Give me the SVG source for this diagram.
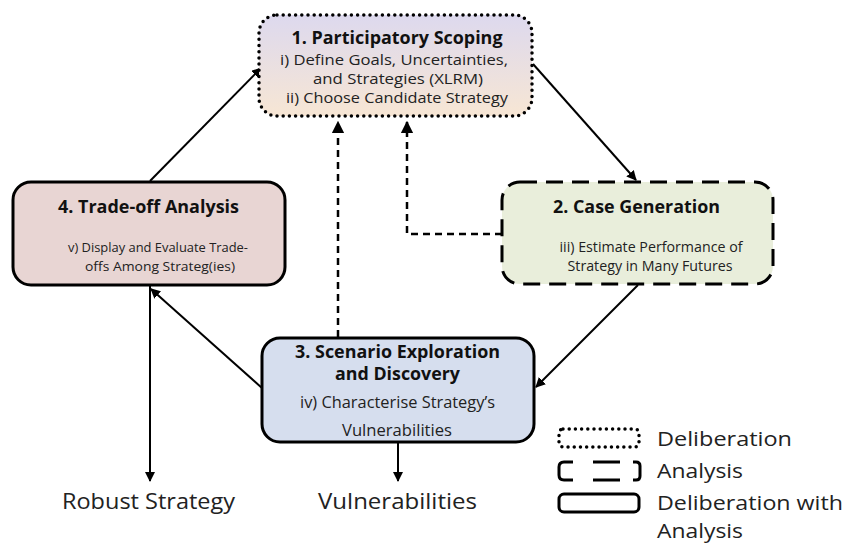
<svg xmlns="http://www.w3.org/2000/svg" width="848" height="543" viewBox="0 0 848 543">
<defs>
<linearGradient id="g1" x1="0" y1="0" x2="0" y2="1">
<stop offset="0" stop-color="#ddd9ee"/>
<stop offset="1" stop-color="#f7e6d4"/>
</linearGradient>
<marker id="ah" viewBox="0 0 10 10" refX="9" refY="5" markerWidth="5" markerHeight="5" orient="auto-start-reverse" markerUnits="strokeWidth">
<path d="M0,0 L10,5 L0,10 z" fill="#000"/>
</marker>
</defs>
<style>
.t{font-family:"Open Sans","Noto Sans",sans-serif;fill:#222;text-anchor:middle}
.h{font-weight:bold;font-size:17px;fill:#111}
.b1{font-size:14.5px}
.b4{font-size:13.5px}
.b2{font-size:14px}
.b3{font-size:15.5px}
.l{font-family:"Open Sans","Noto Sans",sans-serif;fill:#222;font-size:22px}
.lgt{font-family:"Open Sans","Noto Sans",sans-serif;fill:#222;font-size:20px}
.c{fill:none;stroke:#000;stroke-width:2}
.cd{fill:none;stroke:#000;stroke-width:2.5;stroke-dasharray:7 5}
.dot{stroke:#000;stroke-width:3.5;stroke-linecap:round;stroke-dasharray:0 6.2}
.dash{stroke:#000;stroke-width:3;stroke-dasharray:17 9}
.sol{stroke:#000;stroke-width:3}
.lg{fill:none;stroke:#000;stroke-width:3}
</style>
<g id="connectors">
<line class="c" x1="150" y1="181" x2="261" y2="68" marker-end="url(#ah)"/>
<line class="c" x1="533" y1="64" x2="636" y2="180" marker-end="url(#ah)"/>
<line class="c" x1="638" y1="285" x2="536" y2="387" marker-end="url(#ah)"/>
<line class="c" x1="262" y1="388" x2="151" y2="289" marker-end="url(#ah)"/>
<line class="c" x1="150" y1="285" x2="150" y2="481" marker-end="url(#ah)"/>
<line class="c" x1="398" y1="442" x2="398" y2="481" marker-end="url(#ah)"/>
<line class="cd" x1="338" y1="337" x2="338" y2="122" marker-end="url(#ah)"/>
<polyline class="cd" points="502,234 407,234 407,122" marker-end="url(#ah)"/>
</g>
<g id="n1">
<rect class="dot" x="259" y="15" width="273" height="101" rx="18" fill="url(#g1)"/>
<text class="t h" x="397" y="44" textLength="211" lengthAdjust="spacingAndGlyphs">1. Participatory Scoping</text>
<text class="t b1" x="394" y="65" textLength="228" lengthAdjust="spacingAndGlyphs">i) Define Goals, Uncertainties,</text>
<text class="t b1" x="398" y="84" textLength="170" lengthAdjust="spacingAndGlyphs">and Strategies (XLRM)</text>
<text class="t b1" x="397" y="103" textLength="222" lengthAdjust="spacingAndGlyphs">ii) Choose Candidate Strategy</text>
</g>
<g id="n4">
<rect class="sol" x="13" y="182" width="272" height="103" rx="18" fill="#e8d5d3"/>
<text class="t h" x="148.5" y="213" textLength="181" lengthAdjust="spacingAndGlyphs">4. Trade-off Analysis</text>
<text class="t b4" x="158" y="252" textLength="180" lengthAdjust="spacingAndGlyphs">v) Display and Evaluate Trade-</text>
<text class="t b4" x="160" y="271" textLength="150" lengthAdjust="spacingAndGlyphs">offs Among Strateg(ies)</text>
</g>
<g id="n2">
<rect class="dash" x="502" y="182" width="271" height="102" rx="18" fill="#e9eedb"/>
<text class="t h" x="636.5" y="213" textLength="167" lengthAdjust="spacingAndGlyphs">2. Case Generation</text>
<text class="t b2" x="651" y="252" textLength="183" lengthAdjust="spacingAndGlyphs">iii) Estimate Performance of</text>
<text class="t b2" x="650" y="271" textLength="165" lengthAdjust="spacingAndGlyphs">Strategy in Many Futures</text>
</g>
<g id="n3">
<rect class="sol" x="262" y="338" width="272" height="104" rx="18" fill="#d6deee"/>
<text class="t h" x="397.5" y="358" textLength="205" lengthAdjust="spacingAndGlyphs">3. Scenario Exploration</text>
<text class="t h" x="397.5" y="380" textLength="125" lengthAdjust="spacingAndGlyphs">and Discovery</text>
<text class="t b3" x="397.5" y="408" textLength="195" lengthAdjust="spacingAndGlyphs">iv) Characterise Strategy’s</text>
<text class="t b3" x="397" y="436" textLength="110" lengthAdjust="spacingAndGlyphs">Vulnerabilities</text>
</g>
<g id="outputs">
<text class="l" x="148.5" y="509" text-anchor="middle" textLength="173" lengthAdjust="spacingAndGlyphs">Robust Strategy</text>
<text class="l" x="397.5" y="509" text-anchor="middle" textLength="159" lengthAdjust="spacingAndGlyphs">Vulnerabilities</text>
</g>
<g id="legend">
<rect class="dot" x="559" y="429" width="80" height="18" rx="4" fill="none"/>
<text class="lgt" x="657" y="446" textLength="135" lengthAdjust="spacingAndGlyphs">Deliberation</text>
<path class="lg" d="M573,462 H564 Q559,462 559,467 V475 Q559,480 564,480 H573"/>
<path class="lg" d="M593,462 H620 M593,480 H620"/>
<path class="lg" d="M633,462 H636 Q640,462 640,466 V476 Q640,480 636,480 H633"/>
<text class="lgt" x="657" y="478" textLength="86" lengthAdjust="spacingAndGlyphs">Analysis</text>
<rect class="sol" x="559" y="494" width="80" height="18" rx="5" fill="none"/>
<text class="lgt" x="657" y="510" textLength="186" lengthAdjust="spacingAndGlyphs">Deliberation with</text>
<text class="lgt" x="657" y="538" textLength="86" lengthAdjust="spacingAndGlyphs">Analysis</text>
</g>
</svg>
